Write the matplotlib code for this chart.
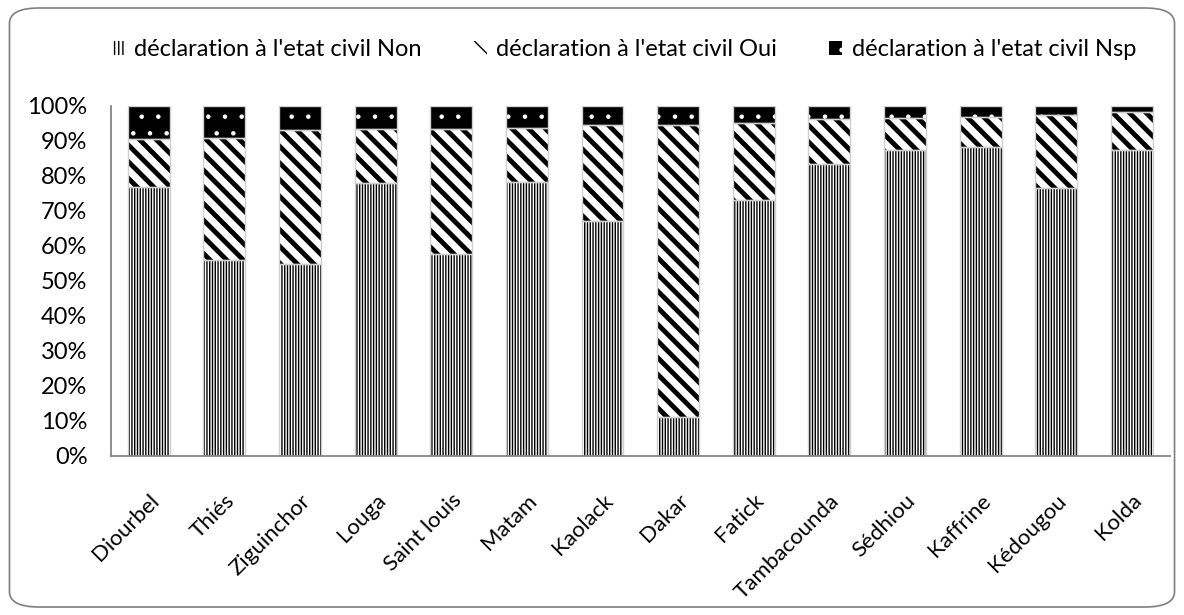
import matplotlib.pyplot as plt
from matplotlib.patches import FancyBboxPatch, Patch
from matplotlib.ticker import PercentFormatter
import numpy as np

regions = ["Diourbel", "Thiés", "Ziguinchor", "Louga", "Saint louis", "Matam",
           "Kaolack", "Dakar", "Fatick", "Tambacounda", "Sédhiou", "Kaffrine",
           "Kédougou", "Kolda"]
non = [76.7, 56.0, 54.8, 77.9, 57.6, 78.3, 67.1, 11.1, 73.1, 83.5, 87.3, 88.1, 76.4, 87.3]
oui = [13.9, 34.9, 38.3, 15.4, 35.8, 15.3, 27.4, 83.4, 21.9, 12.6, 9.1, 8.8, 20.9, 10.8]
nsp = [100 - a - b for a, b in zip(non, oui)]

labels = ["déclaration à l'etat civil Non",
          "déclaration à l'etat civil Oui",
          "déclaration à l'etat civil Nsp"]

plt.rcParams['font.family'] = ['Lato', 'DejaVu Sans']

fig = plt.figure(figsize=(11.84, 6.15), dpi=100)
fig.patches.append(FancyBboxPatch((0.008, 0.013), 0.984, 0.974,
                                  boxstyle="round,pad=0,rounding_size=0.025",
                                  transform=fig.transFigure, facecolor='white',
                                  edgecolor='#7f7f7f', linewidth=1.2, zorder=-1))
ax = fig.add_axes([0.0938, 0.259, 0.894, 0.569])
ax.patch.set_alpha(0)

x = np.arange(len(regions))
w = 0.555
bottom2 = np.array(non)
bottom3 = bottom2 + np.array(oui)

with plt.rc_context({'hatch.linewidth': 1.0}):
    ax.bar(x, non, w, facecolor='white', edgecolor='black', hatch='||||||', linewidth=0)
with plt.rc_context({'hatch.linewidth': 3.5}):
    ax.bar(x, oui, w, bottom=bottom2, facecolor='white', edgecolor='black', hatch='\\\\', linewidth=0)
with plt.rc_context({'hatch.linewidth': 0.8}):
    ax.bar(x, nsp, w, bottom=bottom3, facecolor='black', edgecolor='white', hatch='.', linewidth=0)
# light outline round each segment
for b, h in [(np.zeros(len(x)), non), (bottom2, oui), (bottom3, nsp)]:
    ax.bar(x, h, w, bottom=b, fill=False, edgecolor='#d0d0d0', linewidth=1.0)

ax.set_xlim(-0.5, len(regions) - 0.5)
ax.set_ylim(0, 100)
ax.set_yticks(range(0, 101, 10))
ax.yaxis.set_major_formatter(PercentFormatter(decimals=0))
ax.set_xticks(x)
ax.set_xticklabels(regions, rotation=45, ha='right', rotation_mode='anchor', fontsize=16)
ax.tick_params(axis='y', labelsize=17, length=0, pad=17)
ax.tick_params(axis='x', length=0, pad=25)
for s in ['top', 'right']:
    ax.spines[s].set_visible(False)
for s in ['left', 'bottom']:
    ax.spines[s].set_color('#868686')
    ax.spines[s].set_linewidth(1.3)

with plt.rc_context({'hatch.linewidth': 1.5}):
    handles = [Patch(facecolor='white', edgecolor='black', hatch='||||', linewidth=0),
               Patch(facecolor='white', edgecolor='black', hatch='\\\\', linewidth=0),
               Patch(facecolor='black', edgecolor='white', hatch='.', linewidth=0)]
fig.legend(handles, labels, loc='center', bbox_to_anchor=(0.527, 0.919), ncol=3,
           frameon=False, fontsize=17, handlelength=0.55, handleheight=0.55,
           handletextpad=0.4, columnspacing=2.2)

fig.savefig('out.png', dpi=100)
